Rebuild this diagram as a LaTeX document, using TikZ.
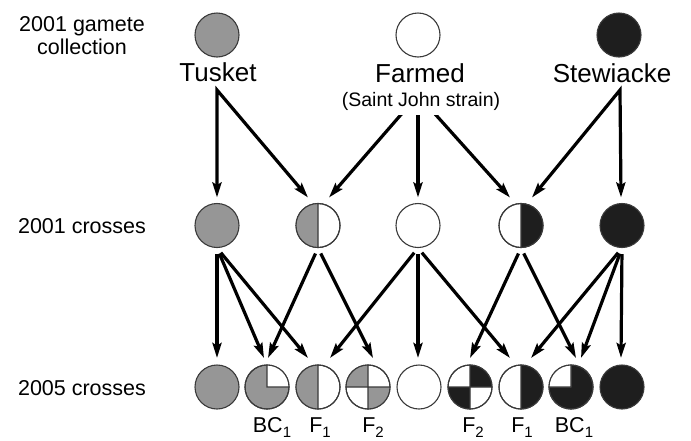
\documentclass[tikz,border=0pt]{standalone}
\usepackage{fontspec}
\setmainfont{Liberation Sans}
\usetikzlibrary{arrows.meta,calc}
\definecolor{gr}{HTML}{969696}
\definecolor{bk}{HTML}{1E1E1E}
\definecolor{ol}{HTML}{3A3A3A}
\newcommand\lsub[1]{\raisebox{-5pt}{\fontsize{15}{15}\selectfont #1}}
% sector fill: #1 node, #2 colour, #3 start angle, #4 end angle
\newcommand\sector[4]{%
  \fill[#2] (#1.center) -- ++(#3:22pt) arc[start angle=#3,end angle=#4,radius=22pt] -- cycle;
}
\begin{document}
\begin{tikzpicture}[x=1pt,y=1pt,
  circ/.style={circle,minimum size=44pt,inner sep=0pt,draw=ol,line width=1.1pt},
  div/.style={draw=ol,line width=1.1pt},
  tipk/.tip={Stealth[length=15pt,width=9pt,inset=2.5pt]},
  arr/.style={line width=3.2pt,-tipk},
  barr/.style={line width=3.2pt,tipk-tipk},
  big/.style={font=\fontsize{26}{28}\selectfont,inner sep=0pt,anchor=base},
  lab/.style={font=\fontsize{21.5}{23}\selectfont,inner sep=0pt}
]
\useasboundingbox (0,0) rectangle (691,-440);

% top row
\node[circ,fill=gr] (T) at (217,-35) {};
\node[circ,fill=white] (F) at (418,-35) {};
\node[circ,fill=bk] (S) at (619,-35) {};

% middle row
\node[circ,fill=gr] (m1) at (217,-225.5) {};
\node[circ,fill=white] (m2) at (318,-225.5) {};
\node[circ,fill=white] (m3) at (418,-225.5) {};
\node[circ,fill=white] (m4) at (521,-225.5) {};
\node[circ,fill=bk] (m5) at (622,-225.5) {};
\sector{m2}{gr}{90}{270}
\sector{m4}{bk}{-90}{90}
\draw[div] (m2) circle[radius=22pt] (m2.north) -- (m2.south);
\draw[div] (m4) circle[radius=22pt] (m4.north) -- (m4.south);

% bottom row
\node[circ,fill=gr] (b1) at (217,-387) {};
\node[circ,fill=gr] (b2) at (267,-387) {};
\node[circ,fill=white] (b3) at (318,-387) {};
\node[circ,fill=white] (b4) at (368,-387) {};
\node[circ,fill=white] (b5) at (419,-387) {};
\node[circ,fill=white] (b6) at (470,-387) {};
\node[circ,fill=white] (b7) at (521,-387) {};
\node[circ,fill=bk] (b8) at (571,-387) {};
\node[circ,fill=bk] (b9) at (622,-387) {};
\sector{b2}{white}{0}{90}
\sector{b3}{gr}{90}{270}
\sector{b4}{gr}{90}{180}
\sector{b4}{gr}{270}{360}
\sector{b6}{bk}{0}{90}
\sector{b6}{bk}{180}{270}
\sector{b7}{bk}{-90}{90}
\sector{b8}{white}{90}{180}
\draw[div] (b2) circle[radius=22pt] (b2.north) -- (b2.center) -- (b2.east);
\draw[div] (b3) circle[radius=22pt] (b3.north) -- (b3.south);
\draw[div] (b4) circle[radius=22pt] (b4.north) -- (b4.south) (b4.west) -- (b4.east);
\draw[div] (b6) circle[radius=22pt] (b6.north) -- (b6.south) (b6.west) -- (b6.east);
\draw[div] (b7) circle[radius=22pt] (b7.north) -- (b7.south);
\draw[div] (b8) circle[radius=22pt] (b8.north) -- (b8.center) -- (b8.west);

% sources of top arrows
\coordinate (tT) at (217,-90);
\coordinate (tF) at (418,-95);
\coordinate (tS) at (620,-90);

% top arrows
\draw[barr] ($(m1)+(0,28)$) -- (tT) -- ($(m2)+(-10,28)$);
\draw[arr] (tF) -- ($(m2)+(11,28)$);
\draw[arr] (tF) -- ($(m3)+(0,28)$);
\draw[arr] (tF) -- ($(m4)+(-11,28)$);
\draw[barr] ($(m4)+(11,28)$) -- (tS) -- ($(m5)+(-1,28)$);

% middle to bottom arrows
\begin{scope}[shorten <=6pt]
\draw[arr] (m1.south) -- ($(b1)+(0,29)$);
\draw[arr] (m1.south) -- ($(b2)+(-3,29)$);
\draw[arr] (m1.south) -- ($(b3)+(-10,29)$);
\draw[arr] (m2.south) -- ($(b2)+(1,29)$);
\draw[arr] (m2.south) -- ($(b4)+(5,29)$);
\draw[arr] (m3.south) -- ($(b3)+(12,29)$);
\draw[arr] (m3.south) -- ($(b5)+(-1,29)$);
\draw[arr] (m3.south) -- ($(b7)+(-11,29)$);
\draw[arr] (m4.south) -- ($(b6)+(0,29)$);
\draw[arr] (m4.south) -- ($(b8)+(5,29)$);
\draw[arr] (m5.south) -- ($(b7)+(10,29)$);
\draw[arr] (m5.south) -- ($(b8)+(10,29)$);
\draw[arr] (m5.south) -- ($(b9)+(-1,29)$);
\end{scope}

% texts
\node[big] (Tl) at (218,-81) {Tusket};
\node[big] (Fl) at (420,-82) {Farmed};
\node[big] (Sl) at (612,-82) {Stewiacke};
\node[font=\fontsize{19.5}{21}\selectfont,anchor=base,fill=white,inner xsep=1pt,inner ysep=5pt] (SJ) at (421,-106) {(Saint John strain)};

\node[lab,align=center] (g1) at (82,-35.5) {2001 gamete\\collection};
\node[lab,anchor=base] (g2) at (82,-233) {2001 crosses};
\node[lab,anchor=base] (g3) at (82,-395) {2005 crosses};

\node[lab,anchor=base] (l2) at (272,-432) {BC\lsub{1}};
\node[lab,anchor=base] (l3) at (320,-432) {F\lsub{1}};
\node[lab,anchor=base] (l4) at (373,-432) {F\lsub{2}};
\node[lab,anchor=base] (l6) at (473,-432) {F\lsub{2}};
\node[lab,anchor=base] (l7) at (522,-432) {F\lsub{1}};
\node[lab,anchor=base] (l8) at (574,-432) {BC\lsub{1}};
\end{tikzpicture}
\end{document}
